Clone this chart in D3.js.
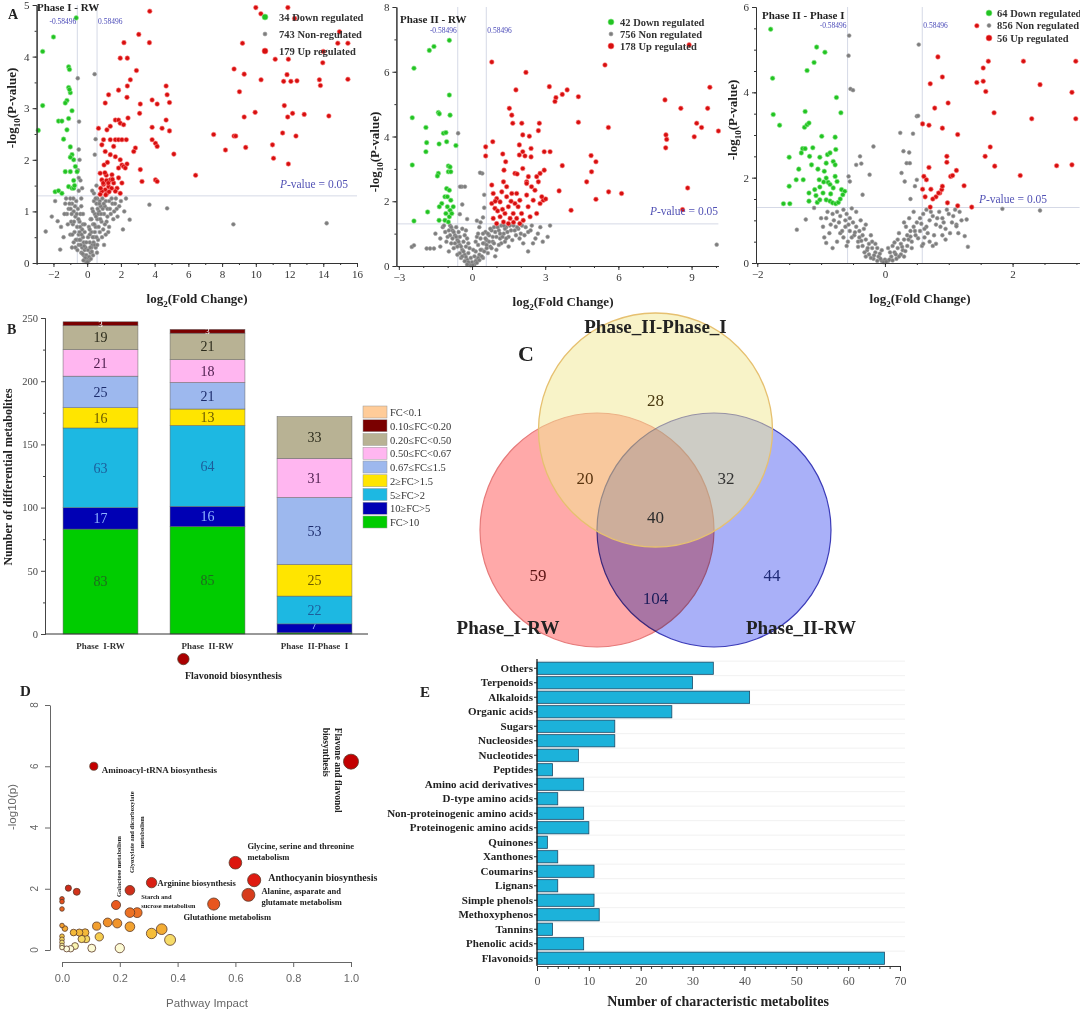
<!DOCTYPE html>
<html><head><meta charset="utf-8">
<script src="https://cdn.jsdelivr.net/npm/d3@7"></script>
<style>body{margin:0;background:#fff}svg{display:block}</style></head>
<body>
<svg id="c" width="1080" height="1018"></svg>
<script>
// ---------------- DATA ----------------
const FC_T = 0.58496, P_T = 1.30103;
// Panel A1: Phase I - RW
const p1Down = [[-2.0,4.38],[-2.64,4.1],[-2.64,3.05],[-2.9,2.57],[-1.1,3.8],[-1.05,3.75],[-1.1,3.4],[-1.0,3.3],[-1.05,3.36],[-1.2,3.15],[-1.3,3.1],[-1.7,2.75],[-1.5,2.75],[-1.1,2.8],[-0.9,2.95],[-1.2,2.58],[-1.4,2.4],[-1.0,2.25],[-0.9,2.1],[-0.8,2.0],[-1.3,1.77],[-1.0,1.77],[-0.6,1.77],[-0.7,1.87],[-0.8,1.6],[-1.1,1.48],[-0.9,1.45],[-0.8,1.45],[-0.75,1.5],[-1.9,1.38],[-1.5,1.35],[-1.7,1.4],[-0.65,4.75],[-1.0,2.05]];
const p1Up = [[3.71,4.88],[3.06,4.43],[3.69,4.27],[2.18,4.27],[1.96,3.97],[2.38,3.97],[2.92,3.73],[2.56,3.55],[2.38,3.43],[1.86,3.35],[2.36,3.21],[1.27,3.26],[1.07,3.10],[3.15,3.08],[3.85,3.16],[4.15,3.08],[4.68,3.43],[4.74,3.26],[4.88,3.11],[4.68,2.77],[4.44,2.61],[3.85,2.63],[3.85,2.39],[4.88,2.56],[3.11,2.90],[2.42,2.81],[1.67,2.77],[1.86,2.77],[1.96,2.71],[2.16,2.68],[0.67,2.61],[1.17,2.58],[1.37,2.65],[0.97,2.39],[1.37,2.39],[1.67,2.39],[1.86,2.39],[2.06,2.39],[2.32,2.39],[0.87,2.29],[1.07,2.16],[1.57,2.26],[2.86,2.23],[2.76,2.16],[1.37,2.1],[1.67,2.06],[1.96,2.0],[2.06,1.9],[2.36,1.92],[2.16,1.87],[1.86,1.84],[2.26,1.84],[4.05,2.32],[4.15,2.26],[5.14,2.11],[3.15,1.81],[3.25,1.58],[4.05,1.61],[4.15,1.58],[6.43,1.70],[0.77,1.74],[0.87,1.61],[0.97,1.52],[1.07,1.42],[1.17,1.35],[1.27,1.48],[1.37,1.61],[1.13,1.70],[1.47,1.71],[1.57,1.55],[1.77,1.45],[1.67,1.39],[1.96,1.35],[2.06,1.55],[1.86,1.65],[0.87,1.39],[0.77,1.33],[1.0,1.9],[1.2,1.95],[0.95,1.55],[1.15,1.6],[1.05,1.75],[1.25,1.55],[1.45,1.45],[0.8,1.45],[1.1,1.32],[1.3,1.38],[1.5,1.62],[10.0,4.95],[10.3,4.83],[11.9,4.95],[12.3,4.74],[14.96,4.48],[14.86,4.26],[15.46,4.26],[9.21,4.26],[14.0,4.1],[11.93,3.95],[11.15,3.95],[13.97,3.88],[8.71,3.76],[9.31,3.66],[11.85,3.65],[10.31,3.55],[11.65,3.52],[12.08,3.52],[12.44,3.53],[13.77,3.55],[13.83,3.44],[15.46,3.56],[9.03,3.32],[11.69,3.05],[12.18,2.90],[12.87,2.88],[11.89,2.83],[9.96,2.92],[9.31,2.83],[14.33,2.85],[7.5,2.49],[8.71,2.46],[8.81,2.46],[8.2,2.19],[9.4,2.24],[11.59,2.52],[12.38,2.46],[10.99,2.29],[11.05,2.03],[11.93,1.92]];
const p1Non = [[-0.1,0.05],[-0.2,0.15],[-0.3,0.3],[-0.15,0.25],[-0.4,0.45],[-0.35,0.2],[-0.5,0.55],[-0.6,0.7],[-0.45,0.8],[-0.7,0.9],[-0.8,1.0],[-0.55,1.05],[-0.9,1.15],[-0.65,1.2],[-1.0,1.25],[-0.75,0.6],[-0.85,0.75],[-0.25,0.5],[-0.5,0.35],[-1.1,1.05],[-1.2,0.95],[-0.95,0.8],[-0.3,0.65],[-0.6,0.45],[-0.2,0.4],[-0.4,0.95],[-1.3,1.15],[-1.0,0.55],[-0.7,0.3],[-0.1,0.3],[-0.05,0.15],[0.1,0.05],[0.2,0.2],[0.3,0.35],[0.15,0.4],[0.4,0.5],[0.5,0.7],[0.6,0.85],[0.35,0.75],[0.7,1.0],[0.8,1.1],[0.55,1.15],[0.9,1.25],[1.0,0.95],[1.1,1.2],[1.2,1.05],[0.75,0.6],[0.45,0.95],[0.25,0.6],[1.3,1.2],[1.4,0.95],[0.65,0.45],[0.85,0.8],[1.5,1.15],[1.6,1.0],[1.7,1.25],[0.5,0.3],[0.35,0.15],[0.95,0.65],[1.15,0.8],[1.8,0.9],[2.0,1.2],[0.6,1.25],[0.3,1.05],[0.2,0.85],[0.05,0.5],[0.1,0.7],[1.25,0.6],[1.9,1.1],[2.2,1.0],[0.4,1.2],[0.0,0.1],[0.05,0.25],[-0.05,0.4],[0.15,0.55],[-0.15,0.6],[0.25,0.3],[-0.25,0.75],[0.45,0.6],[0.55,0.5],[0.65,0.95],[0.75,1.2],[1.05,1.1],[-0.35,1.1],[-0.45,0.6],
 [-0.05,0.02],[0.02,0.02],[-0.12,0.1],[0.12,0.12],[-0.22,0.05],[0.22,0.08],[-0.18,0.33],[0.18,0.3],[-0.28,0.18],[0.28,0.22],[-0.38,0.35],[0.38,0.4],[-0.33,0.55],[0.33,0.5],[-0.42,0.7],[0.42,0.75],[-0.52,0.85],[0.52,0.9],[-0.62,0.95],[0.62,1.05],[-0.72,1.1],[0.72,1.15],[-0.82,1.25],[0.82,0.95],[-0.92,0.95],[0.92,1.05],[-1.05,1.15],[1.05,0.75],[-1.15,0.75],[1.2,0.9],[-0.58,0.25],[0.58,0.2],[-0.68,0.45],[0.68,0.7],[-0.78,0.8],[0.78,0.85],[-0.88,0.55],[0.88,0.5],[-0.98,1.05],[0.98,1.15],[1.35,1.05],[1.45,1.25],[1.55,0.85],[1.65,1.15],[1.75,1.05],[-1.25,1.25],[-1.35,0.95],[0.45,0.35],[-0.45,0.45],[0.15,0.65],[-0.15,0.75],[0.25,0.85],[-0.25,0.95],[0.35,1.0],[-0.35,1.25],[0.5,1.25],[1.1,0.55],[1.3,0.7],[-0.8,0.4],[0.6,0.35],
 [-0.5,1.4],[-0.4,1.6],[-0.55,1.8],[-0.45,2.0],[-0.5,2.2],[-0.48,2.74],[-0.56,3.58],[0.44,3.66],[0.5,2.4],[0.45,2.1],[0.55,1.5],[0.4,1.35],[-0.3,1.45],[0.3,1.4],[-0.5,1.65],[3.69,1.13],[4.74,1.06],[8.67,0.75],[14.2,0.77],[-2.46,0.61],[-1.75,0.81],[-1.6,0.26],[2.52,0.84],[2.12,0.65],[-1.9,1.2],[-2.1,0.9],[2.3,1.25],[-1.4,0.5],[-0.9,0.3],[1.0,0.35],[-1.55,0.7]];
// Panel A2: Phase II - RW
const p2Down = [[-0.93,6.97],[-1.75,6.66],[-1.56,6.78],[-2.38,6.11],[-0.93,5.28],[-2.45,4.58],[-0.9,4.66],[-1.38,4.74],[-1.34,4.70],[-1.89,4.28],[-1.86,3.81],[-1.89,3.53],[-1.35,3.77],[-1.17,4.1],[-1.07,4.12],[-0.66,3.72],[-1.04,3.84],[-2.45,3.12],[-1.38,2.86],[-1.42,2.78],[-0.97,3.09],[-0.9,3.06],[-0.97,2.91],[-0.87,2.91],[-1.82,1.67],[-2.38,1.39],[-1.35,1.41],[-1.04,2.39],[-0.93,2.34],[-1.11,2.14],[-1.01,2.14],[-0.87,2.03],[-1.24,1.93],[-1.34,1.83],[-1.01,1.83],[-0.9,1.72],[-1.07,1.62],[-0.93,1.52],[-1.11,1.41],[-0.97,1.36],[-0.83,1.62],[-0.77,1.83]];
const p2Up = [[0.81,6.30],[2.21,5.98],[5.45,6.21],[8.9,6.83],[3.17,5.54],[4.36,5.23],[1.8,5.44],[3.44,5.2],[3.4,5.08],[3.7,5.3],[3.9,5.44],[4.36,4.44],[1.53,4.87],[1.63,4.66],[1.67,4.41],[2.04,4.41],[2.76,4.41],[2.72,4.18],[2.08,4.05],[2.35,4.01],[0.85,3.84],[0.56,3.68],[0.56,3.40],[1.26,3.46],[1.94,3.74],[1.94,3.43],[2.08,3.53],[2.17,3.40],[2.42,3.63],[2.42,3.37],[2.96,3.53],[3.2,3.53],[3.7,3.1],[1.38,3.22],[1.31,2.96],[1.76,2.86],[1.85,2.84],[2.08,3.01],[2.31,2.76],[2.24,2.6],[2.65,2.76],[2.72,2.6],[2.79,2.86],[2.96,2.96],[2.92,2.03],[3.02,2.07],[2.79,1.93],[3.57,2.32],[4.7,2.6],[4.88,3.41],[4.9,2.91],[5.08,3.22],[5.08,2.06],[5.6,2.29],[6.13,2.24],[4.06,1.72],[5.59,4.28],[7.91,5.13],[7.95,4.05],[7.98,3.91],[7.94,3.65],[8.56,4.87],[9.21,4.41],[9.41,4.28],[9.11,3.99],[9.66,4.87],[9.75,5.52],[10.1,4.17],[8.84,2.41],[8.63,1.74],[0.81,2.5],[0.87,2.24],[1.01,2.08],[0.81,1.93],[0.94,1.78],[1.15,1.98],[1.22,2.29],[1.29,2.6],[1.42,2.45],[1.42,2.14],[1.49,1.83],[1.35,1.62],[1.15,1.52],[0.87,1.47],[1.01,1.31],[1.56,1.47],[1.69,1.62],[1.76,1.93],[1.83,2.24],[1.89,1.83],[1.96,2.03],[2.03,1.62],[2.1,1.41],[1.83,1.47],[2.24,2.19],[2.3,1.83],[2.38,1.52],[2.51,2.03],[2.58,2.34],[2.65,1.62],[2.44,2.45],[1.63,2.24],[2.24,2.55],[2.86,2.14],[1.49,1.31],[1.29,1.36],[1.96,1.31],[1.05,1.7],[1.25,1.75],[1.6,2.0],[0.95,2.0],[1.7,1.35]];
const p2Non = [[-0.1,0.05],[-0.2,0.2],[-0.3,0.35],[-0.15,0.4],[-0.4,0.5],[-0.5,0.65],[-0.35,0.75],[-0.6,0.8],[-0.7,0.95],[-0.55,1.05],[-0.8,1.1],[-0.9,1.25],[-0.65,1.2],[-1.0,0.9],[-1.1,1.05],[-0.45,0.25],[-0.25,0.6],[-0.75,0.55],[-0.85,0.7],[-1.2,1.2],[-0.3,0.95],[-0.05,0.25],[-0.6,0.35],[-0.95,0.45],[-1.3,0.85],[-0.4,1.15],[0.1,0.05],[0.2,0.2],[0.3,0.35],[0.15,0.45],[0.4,0.5],[0.5,0.7],[0.6,0.8],[0.35,0.85],[0.7,0.95],[0.8,1.1],[0.55,1.05],[0.9,1.2],[1.0,0.9],[1.1,1.1],[1.2,1.25],[0.75,0.6],[0.45,0.25],[0.25,0.65],[0.65,0.4],[0.85,0.75],[1.3,1.0],[1.4,1.2],[1.5,0.9],[1.6,1.1],[1.7,1.25],[1.8,0.95],[1.9,1.15],[2.0,1.0],[2.2,1.2],[2.4,1.1],[2.6,0.85],[2.8,1.2],[1.2,0.7],[1.5,0.6],[1.0,0.5],[0.05,0.5],[0.3,1.2],[2.1,0.7],[2.5,0.7],[0.95,0.3],[0.0,0.12],[-0.1,0.55],[0.1,0.3],[0.2,0.9],[-0.2,0.85],[0.45,1.0],[0.6,0.55],[-0.5,0.9],[1.15,0.85],[1.35,0.75],
 [-0.05,0.02],[0.03,0.03],[-0.15,0.12],[0.15,0.15],[-0.25,0.28],[0.25,0.25],[-0.35,0.45],[0.35,0.5],[-0.45,0.6],[0.45,0.7],[-0.55,0.75],[0.55,0.85],[-0.65,0.9],[0.65,1.0],[-0.75,1.05],[0.75,1.15],[-0.85,1.2],[0.85,0.9],[-0.95,1.1],[0.95,1.05],[-1.05,0.75],[1.05,1.2],[1.15,1.0],[1.25,0.9],[1.35,1.15],[1.45,1.05],[1.55,1.25],[1.65,0.8],[1.75,1.1],[1.85,1.2],[1.95,0.85],[2.05,1.25],[2.15,0.95],[2.3,1.05],[2.45,1.25],[2.7,1.0],[-0.2,0.05],[0.2,0.1],[-0.3,0.15],[0.3,0.18],[-0.4,0.3],[0.4,0.3],[-0.5,0.4],[0.5,0.45],[-0.6,0.6],[0.6,0.65],[-0.7,0.7],[0.7,0.75],[-0.8,0.85],[0.8,0.55],[-0.9,0.95],[0.9,0.7],[-1.15,1.25],[1.1,0.65],[1.3,1.25],[1.4,0.85],[0.25,1.0],[-0.25,1.1],[0.15,0.75],[-0.15,0.7],
 [-0.57,4.1],[0.42,2.86],[-0.42,2.45],[-0.49,2.45],[-0.29,2.45],[0.33,2.88],[-0.5,1.6],[-0.4,1.9],[0.45,1.5],[0.5,1.8],[0.2,1.4],[-0.2,1.45],[0.5,2.2],[0.35,1.35],[-2.47,0.59],[-2.38,0.64],[-1.86,0.54],[-1.72,0.54],[-1.56,0.54],[10.03,0.66],[3.2,1.25],[2.9,0.75],[-1.5,1.0],[-1.3,0.6],[3.1,0.9],[2.3,0.45]];
// Panel A3: Phase II - Phase I
const p3Down = [[-1.79,5.48],[-1.76,4.33],[-1.75,3.48],[-1.65,3.23],[-1.07,5.06],[-0.94,4.94],[-1.11,4.7],[-1.22,4.51],[-0.76,3.88],[-0.69,3.52],[-1.25,3.55],[-1.26,3.18],[-1.22,3.24],[-1.19,3.28],[-0.99,2.97],[-0.78,2.95],[-1.29,2.68],[-1.25,2.68],[-1.31,2.58],[-1.5,2.48],[-1.18,2.5],[-1.13,2.7],[-1.02,2.48],[-0.9,2.54],[-0.86,2.58],[-0.77,2.66],[-0.92,2.34],[-0.81,2.38],[-0.78,2.3],[-1.15,2.3],[-1.39,1.95],[-1.28,1.95],[-1.5,1.8],[-1.03,1.95],[-1.02,1.78],[-0.92,1.99],[-0.89,1.89],[-0.78,2.03],[-0.75,1.91],[-1.19,1.64],[-1.1,1.72],[-0.97,1.64],[-0.86,1.84],[-0.81,1.76],[-0.68,1.72],[-0.63,1.68],[-0.66,1.6],[-0.92,1.48],[-0.86,1.45],[-0.82,1.41],[-0.77,1.39],[-0.73,1.42],[-1.06,1.42],[-1.02,1.48],[-1.19,1.45],[-1.59,1.39],[-1.49,1.39],[-0.95,2.15],[-1.05,2.2],[-0.7,1.5],[-1.35,2.2],[-0.85,1.62],[-1.08,1.58],[-0.96,1.9]];
const p3Up = [[1.44,5.56],[0.83,4.83],[1.62,4.73],[2.17,4.73],[2.99,4.73],[1.54,4.57],[0.9,4.36],[1.44,4.23],[1.54,4.26],[0.71,4.2],[1.58,4.02],[2.43,4.18],[2.93,4.0],[0.99,3.75],[0.78,3.63],[1.71,3.52],[2.3,3.38],[2.99,3.38],[0.59,3.26],[0.69,3.23],[0.9,3.16],[1.14,3.01],[1.65,2.72],[0.97,2.5],[0.97,2.36],[1.57,2.5],[0.69,2.24],[1.72,2.27],[2.69,2.28],[2.93,2.3],[1.03,2.03],[1.06,2.05],[1.12,2.17],[0.61,2.03],[2.12,2.05],[0.59,1.73],[0.72,1.73],[0.86,1.64],[0.89,1.72],[0.9,1.8],[0.8,1.55],[0.84,1.64],[0.63,1.55],[0.71,1.31],[0.98,1.41],[1.14,1.34],[1.24,1.81],[1.36,1.31],[0.75,1.5],[0.65,1.95]];
const p3Non = [[-0.05,0.05],[-0.1,0.15],[-0.15,0.25],[-0.2,0.35],[-0.25,0.45],[-0.3,0.55],[-0.35,0.65],[-0.4,0.75],[-0.45,0.85],[-0.5,0.95],[-0.55,1.05],[-0.6,1.15],[-0.65,1.25],[-0.7,1.1],[-0.75,1.2],[-0.8,1.0],[-0.85,0.9],[-0.9,1.2],[-0.12,0.35],[-0.2,0.5],[-0.28,0.3],[-0.33,0.8],[-0.42,0.5],[-0.48,0.65],[-0.55,0.75],[-0.62,0.85],[-0.7,0.7],[-0.38,1.0],[-0.45,1.2],[-0.25,0.2],[-0.18,0.1],[-0.3,0.15],[-0.22,0.65],[-0.58,0.5],[-0.95,0.6],[-1.0,1.05],[-0.52,1.28],[-0.08,0.22],[-0.35,0.4],[-0.65,0.6],[0.05,0.05],[0.1,0.15],[0.15,0.25],[0.2,0.35],[0.25,0.45],[0.3,0.55],[0.35,0.65],[0.4,0.75],[0.45,0.85],[0.5,0.95],[0.55,1.05],[0.6,1.15],[0.65,1.25],[0.7,1.0],[0.75,1.1],[0.8,0.9],[0.85,1.2],[0.9,1.05],[0.95,0.8],[1.0,1.15],[1.05,0.95],[1.1,1.25],[1.15,0.7],[1.2,1.0],[0.12,0.4],[0.2,0.55],[0.28,0.3],[0.33,0.85],[0.42,0.5],[0.48,0.65],[0.55,0.75],[0.62,0.6],[0.7,0.5],[0.38,1.05],[0.45,1.2],[0.25,0.2],[0.18,0.1],[0.3,0.15],[0.22,0.7],[0.58,0.4],[0.8,0.45],[0.9,0.65],[0.0,0.08],[0.08,0.25],[0.35,0.4],[0.65,0.85],
 [-0.02,0.02],[0.02,0.03],[-0.07,0.1],[0.07,0.08],[-0.12,0.05],[0.12,0.06],[-0.17,0.18],[0.17,0.2],[-0.22,0.12],[0.22,0.15],[-0.27,0.35],[0.27,0.38],[-0.32,0.25],[0.32,0.28],[-0.37,0.52],[0.37,0.55],[-0.42,0.38],[0.42,0.35],[-0.47,0.72],[0.47,0.75],[-0.52,0.6],[0.52,0.58],[-0.57,0.9],[0.57,0.92],[-0.62,1.0],[0.62,0.8],[-0.67,0.75],[0.67,0.7],[-0.72,0.95],[0.72,1.2],[-0.77,0.85],[0.77,0.65],[-0.82,1.15],[0.82,1.05],[-0.87,0.7],[0.87,0.85],[-0.92,1.05],[0.92,0.95],[-0.97,0.85],[0.97,1.25],[1.02,0.7],[1.07,1.1],[1.12,0.9],[1.17,1.2],[-0.15,0.45],[0.15,0.48],[-0.05,0.3],[0.05,0.35],[-0.4,0.6],[0.4,0.62],[-0.6,0.4],[0.6,0.45],[-0.75,0.5],[0.75,0.4],[0.95,0.55],[-0.3,0.9],[0.3,0.95],
 [-0.56,5.33],[-0.57,4.86],[-0.54,4.08],[-0.5,4.05],[0.53,5.12],[0.5,3.44],[0.52,3.45],[0.44,3.03],[0.24,3.05],[-0.18,2.73],[0.29,2.62],[0.38,2.59],[0.34,2.34],[0.39,2.34],[0.26,2.11],[0.5,1.95],[-0.45,2.3],[-0.37,2.33],[-0.39,2.5],[-0.24,2.07],[-0.57,2.03],[-0.55,1.91],[0.31,1.91],[0.47,1.8],[-0.35,1.6],[0.4,1.5],[-1.38,0.78],[-1.24,1.02],[-0.92,0.47],[-0.82,0.35],[1.25,0.63],[1.3,0.38],[1.28,1.02],[2.43,1.23],[1.84,1.27],[1.12,0.86],[-1.11,1.29]];
const volcanoLegend = [
  ["34 Down regulated","743 Non-regulated","179 Up regulated"],
  ["42 Down regulated","756 Non regulated","178 Up regulated"],
  ["64 Down regulated","856 Non regulated","56 Up regulated"]];
const volcanoTitles = ["Phase I - RW","Phase II - RW","Phase II - Phase I"];

// Panel B
const bCats = ["Phase  I-RW","Phase  II-RW","Phase  II-Phase  I"];
const bKeys = ["FC>10","10≥FC>5","5≥FC>2","2≥FC>1.5","0.67≤FC≤1.5","0.50≤FC<0.67","0.20≤FC<0.50","0.10≤FC<0.20","FC<0.1"];
const bVals = {
  "FC>10":[83,85,1], "10≥FC>5":[17,16,7], "5≥FC>2":[63,64,22], "2≥FC>1.5":[16,13,25],
  "0.67≤FC≤1.5":[25,21,53], "0.50≤FC<0.67":[21,18,31], "0.20≤FC<0.50":[19,21,33],
  "0.10≤FC<0.20":[3,3,0], "FC<0.1":[0,0,0]};
const bTicks = [0,50,100,150,200,250];

// Panel C
const vennSets = ["Phase_II-Phase_I","Phase_I-RW","Phase_II-RW"];
const vennRegions = ["A","AB","AC","ABC","B","BC","C"];
const vennCounts = [28,20,32,40,59,104,44];

// Panel D
const dNames = ["Flavone and flavonol biosynthesis","Flavonoid biosynthesis","Aminoacyl-tRNA biosynthesis","Glycine, serine and threonine metabolism","Anthocyanin biosynthesis","Alanine, asparate and glutamate metabolism","Glutathione metabolism","Arginine biosynthesis","Glyoxylate and dicarboxylate metabolism","Starch and sucrose metabolism","Galactose metabolism"];
const dImpact = [1.0,0.42,0.11,0.60,0.665,0.645,0.525,0.31,0.235,0.26,0.187, 0.022,0.051,0.0,0.0,0.0,0.0,0.01,0.0,0.0,0.0,0.0,0.0,0.016,0.03,0.045,0.04,0.06,0.08,0.068,0.083,0.12,0.129,0.103,0.158,0.191,0.235,0.235,0.2,0.31,0.345,0.374];
const dLogP =   [6.15,9.5,6.0,2.85,2.28,1.8,1.5,2.2,1.95,1.22,1.47, 2.02,1.9,1.67,1.58,1.34,0.8,0.7,0.45,0.35,0.25,0.15,0.08,0.035,0.04,0.13,0.57,0.57,0.57,0.36,0.36,0.78,0.43,0.06,0.9,0.87,0.76,1.22,0.06,0.54,0.68,0.33];

// Panel E
const eCats = ["Others","Terpenoids","Alkaloids","Organic acids","Sugars","Nucleosides","Nucleotides","Peptides","Amino acid derivatives","D-type amino acids","Non-proteinogenic amino acids","Proteinogenic amino acids","Quinones","Xanthones","Coumarins","Lignans","Simple phenols","Methoxyphenos","Tannins","Phenolic acids","Flavonoids"];
const eVals = [34,30,41,26,15,15,8,3,9,4,9,10,2,4,11,4,11,12,3,9,67];

// ---------------- DRAW ----------------
const svg = d3.select('#c');
svg.append('rect').attr('width',1080).attr('height',1018).attr('fill','#fff');
const SERIF = "'Liberation Serif','Times New Roman',serif";
const SANS = "'Liberation Sans',Arial,sans-serif";

function styleAxis(g, col, fs, fam){
  g.select('.domain').attr('stroke',col).attr('stroke-width',1);
  g.selectAll('.tick line').attr('stroke',col);
  g.selectAll('.tick text').attr('fill',col).attr('font-size',fs).attr('font-family',fam||SERIF);
}
function txt(g,x,y,s,o){
  o=o||{};
  const t=g.append('text').attr('x',x).attr('y',y).text(s)
    .attr('font-family',o.fam||SERIF).attr('font-size',o.fs||11)
    .attr('font-weight',o.fw||'normal').attr('fill',o.fill||'#222')
    .attr('text-anchor',o.anchor||'start');
  if(o.rot!==undefined) t.attr('transform',`rotate(${o.rot},${x},${y})`);
  if(o.italic) t.attr('font-style','italic');
  return t;
}

// ---- Volcano plots ----
const vcfg = [
 {L:36.6,R:357,T:5,B:263,xd:[-3,16],yd:[0,5],xt:d3.range(-2,17,2),xm:d3.range(-3,17,1),yt:d3.range(0,6,1),ym:d3.range(0,5.01,0.5),
  data:[p1Non,p1Down,p1Up],leg:[265,17,17],legTx:279,title:[37,11],ttl:[12,108],xtl:[197,303],lab:24,pv:[348,188]},
 {L:396.4,R:718.4,T:7,B:266,xd:[-3.1,10.1],yd:[0,8],xt:d3.range(-3,10,3),xm:d3.range(-3,10.1,1),yt:d3.range(0,9,2),ym:d3.range(0,8.01,1),
  data:[p2Non,p2Down,p2Up],leg:[611,22,12],legTx:620,title:[400,23],ttl:[375,152],xtl:[563,306],lab:33,pv:[718,215]},
 {L:756,R:1079.6,T:7,B:263,xd:[-2.02,3.05],yd:[0,6],xt:[-2,0,2],xm:d3.range(-2,3.01,0.5),yt:d3.range(0,7,2),ym:d3.range(0,6.01,0.5),
  data:[p3Non,p3Down,p3Up],leg:[989,13,12.5],legTx:997,title:[762,19],ttl:[733,120],xtl:[920,303],lab:28,pv:[1047,203]}
];
const vcols = [['#7d7d7d','#a0a0a0',1.9],['#22c322','#8fe88f',2.3],['#d60f0f','#ff8080',2.3]];
vcfg.forEach((o,i)=>{
  const g = svg.append('g');
  const x = d3.scaleLinear().domain(o.xd).range([o.L,o.R]);
  const y = d3.scaleLinear().domain(o.yd).range([o.B,o.T]);
  const lc='#d5d9e6';
  [-FC_T,FC_T].forEach(v=>g.append('line').attr('x1',x(v)).attr('x2',x(v)).attr('y1',o.T).attr('y2',o.B).attr('stroke',lc).attr('stroke-width',1));
  g.append('line').attr('x1',o.L).attr('x2',o.R).attr('y1',y(P_T)).attr('y2',y(P_T)).attr('stroke',lc).attr('stroke-width',1);
  o.data.forEach((arr,k)=>{
    g.append('g').selectAll('circle').data(arr).join('circle')
      .attr('cx',d=>x(d[0])).attr('cy',d=>y(d[1])).attr('r',vcols[k][2])
      .attr('fill',vcols[k][0]).attr('stroke',vcols[k][1]).attr('stroke-width',0.6);
  });
  txt(g,x(-FC_T)-1,o.lab,'-0.58496',{fs:7.5,fill:'#4a4ab8',anchor:'end'});
  txt(g,x(FC_T)+1,o.lab,'0.58496',{fs:7.5,fill:'#4a4ab8'});
  const pv = txt(g,o.pv[0],o.pv[1],'',{fs:11.5,fill:'#5252b5',anchor:'end'});
  pv.append('tspan').attr('font-style','italic').text('P');
  pv.append('tspan').text('-value = 0.05');
  const ax = g.append('g').attr('transform',`translate(0,${o.B})`)
    .call(d3.axisBottom(x).tickValues(o.xt).tickSize(4).tickSizeOuter(0).tickFormat(d3.format('d')));
  styleAxis(ax,'#333',11);
  const axm = g.append('g').attr('transform',`translate(0,${o.B})`)
    .call(d3.axisBottom(x).tickValues(o.xm).tickSize(2).tickSizeOuter(0).tickFormat(''));
  styleAxis(axm,'#333',11);
  const ay = g.append('g').attr('transform',`translate(${o.L},0)`)
    .call(d3.axisLeft(y).tickValues(o.yt).tickSize(4).tickSizeOuter(0).tickFormat(d3.format('d')));
  styleAxis(ay,'#333',11);
  const aym = g.append('g').attr('transform',`translate(${o.L},0)`)
    .call(d3.axisLeft(y).tickValues(o.ym).tickSize(2).tickSizeOuter(0).tickFormat(''));
  styleAxis(aym,'#333',11);
  txt(g,o.title[0],o.title[1],volcanoTitles[i],{fs:11,fw:'bold',fill:'#222'});
  volcanoLegend[i].forEach((s,k)=>{
    const yy=o.leg[1]+k*o.leg[2];
    const kk=[1,0,2][k];
    g.append('circle').attr('cx',o.leg[0]).attr('cy',yy).attr('r',kk==0?2:3)
      .attr('fill',vcols[kk][0]).attr('stroke',vcols[kk][1]).attr('stroke-width',0.6);
    txt(g,o.legTx,yy+3.5,s,{fs:10.5,fw:'bold',fill:'#333'});
  });
  const xt = txt(g,o.xtl[0],o.xtl[1],'',{fs:13,fw:'bold',anchor:'middle'});
  xt.append('tspan').text('log');
  xt.append('tspan').attr('font-size',9).attr('dy',4).text('2');
  xt.append('tspan').attr('dy',-4).text('(Fold Change)');
  const yt = txt(g,o.ttl[0],o.ttl[1],'',{fs:13,fw:'bold',anchor:'middle',rot:-90});
  yt.attr('dy',4);
  yt.append('tspan').text('-log');
  yt.append('tspan').attr('font-size',9).attr('dy',4).text('10');
  yt.append('tspan').attr('dy',-4).text('(P-value)');
});
txt(svg,8,19,'A',{fs:14,fw:'bold'});

// ---- Panel B ----
(function(){
  const g = svg.append('g');
  const x = d3.scaleBand().domain(bCats).range([47,368]).paddingInner(0.3).paddingOuter(0.15);
  const y = d3.scaleLinear().domain([0,250]).range([634,318]);
  const colors = {"FC>10":"#00cc00","10≥FC>5":"#0000b4","5≥FC>2":"#1db8e2","2≥FC>1.5":"#ffe500",
    "0.67≤FC≤1.5":"#9db8ee","0.50≤FC<0.67":"#ffb6f0","0.20≤FC<0.50":"#b8b294","0.10≤FC<0.20":"#7a0000","FC<0.1":"#ffcc99"};
  const lcol = {"FC>10":"#1f6b1f","10≥FC>5":"#8fb4ff","5≥FC>2":"#1d5d9a","2≥FC>1.5":"#6b5a00",
    "0.67≤FC≤1.5":"#1b2b6b","0.50≤FC<0.67":"#4a1a4a","0.20≤FC<0.50":"#2b2b1b","0.10≤FC<0.20":"#ffffff","FC<0.1":"#333"};
  const rows = bCats.map((c,i)=>{const r={cat:c}; bKeys.forEach(k=>r[k]=bVals[k][i]); return r;});
  const stack = d3.stack().keys(bKeys)(rows);
  stack.forEach(s=>{
    s.forEach(d=>{
      const v=d[1]-d[0]; if(v<=0) return;
      g.append('rect').attr('x',x(d.data.cat)).attr('width',x.bandwidth())
        .attr('y',y(d[1])).attr('height',y(d[0])-y(d[1]))
        .attr('fill',colors[s.key]).attr('stroke','#666').attr('stroke-width',0.5);
      if(v<2) return;
      const fs = v<6?9:14;
      const cy = v<10 && v>=6 ? y(d[0])-4 : (y(d[0])+y(d[1]))/2+fs*0.35;
      txt(g,x(d.data.cat)+x.bandwidth()/2,cy,String(v),{fs:fs,fill:lcol[s.key],anchor:'middle'});
    });
  });
  const ax = g.append('g').attr('transform','translate(0,634)').call(d3.axisBottom(x).tickSize(0).tickSizeOuter(0));
  styleAxis(ax,'#333',9);
  ax.select('.domain').attr('d','M45,0H368');
  ax.selectAll('.tick text').attr('font-weight','bold').attr('dy','1.35em').style('white-space','pre');
  const ay = g.append('g').attr('transform','translate(45,0)').call(d3.axisLeft(y).tickValues(bTicks).tickSize(4).tickSizeOuter(0));
  styleAxis(ay,'#444',10.5);
  const aym = g.append('g').attr('transform','translate(45,0)').call(d3.axisLeft(y).tickValues(d3.range(25,250,50)).tickSize(2).tickFormat(''));
  styleAxis(aym,'#444',10);
  txt(g,12,477,'Number of differential metabolites',{fs:12,fw:'bold',anchor:'middle',rot:-90});
  txt(g,7,334,'B',{fs:14,fw:'bold'});
  bKeys.slice().reverse().forEach((k,i)=>{
    const yy = 412 + i*13.75;
    g.append('rect').attr('x',363).attr('y',yy-6).attr('width',24).attr('height',12).attr('fill',colors[k]).attr('stroke','#999').attr('stroke-width',0.5);
    txt(g,390,yy+4,k,{fs:10.5,fill:'#333'});
  });
})();

// ---- Panel C Venn ----
(function(){
  const g = svg.append('g');
  const cx=655.5, top=430, dx=58.5, dy=100, r=117;
  const cA=[cx,top], cB=[cx-dx,top+dy], cC=[cx+dx,top+dy];
  g.append('circle').attr('cx',cB[0]).attr('cy',cB[1]).attr('r',r).attr('fill','#ffa9a9').attr('stroke','#e67a7a').attr('stroke-width',1.2);
  g.append('circle').attr('cx',cC[0]).attr('cy',cC[1]).attr('r',r).attr('fill','#a9b0f8').attr('stroke','#3c3cb8').attr('stroke-width',1.2).style('mix-blend-mode','multiply');
  g.append('circle').attr('cx',cA[0]).attr('cy',cA[1]).attr('r',r).attr('fill','#f2e892').attr('fill-opacity',0.5).attr('stroke','#e6c070').attr('stroke-width',1.3);
  const pos = {A:[cA[0],cA[1]-30],AB:[cB[0]-12,cA[1]+48],AC:[cC[0]+12,cA[1]+48],ABC:[cx,top+87],B:[cB[0]-59,cB[1]+45],C:[cC[0]+58,cB[1]+45],BC:[cx,cB[1]+68]};
  const ncol = {A:'#4a3a10',AB:'#5a3510',AC:'#333',ABC:'#2b2b2b',B:'#5a1212',C:'#1f2a78',BC:'#1c1c5a'};
  vennRegions.forEach((k,i)=>txt(g,pos[k][0],pos[k][1]+6,String(vennCounts[i]),{fs:17,anchor:'middle',fill:ncol[k]}));
  txt(g,cA[0],333,vennSets[0],{fs:19,fw:'bold',anchor:'middle',fill:'#222'});
  txt(g,508,634,vennSets[1],{fs:19,fw:'bold',anchor:'middle',fill:'#222'});
  txt(g,801,634,vennSets[2],{fs:19,fw:'bold',anchor:'middle',fill:'#222'});
  txt(g,518,361,'C',{fs:22,fw:'bold',fill:'#222'});
})();

// ---- Panel D ----
(function(){
  const g = svg.append('g');
  const x = d3.scaleLinear().domain([0,1]).range([62,351]);
  const y = d3.scaleLinear().domain([0,8]).range([950,705]);
  const rs = d3.scaleSqrt().domain([0,1]).range([2.3,7.5]);
  const col = d3.scaleLinear().domain([0,0.2,0.5,0.9,1.5,2.0,2.3,6]).range(['#fffff2','#f6ee8a','#f5c23c','#f0902a','#e8561e','#cc2a1a','#e01a10','#c40000']);
  const pts = dImpact.map((v,i)=>({x:v,y:dLogP[i],name:dNames[i]||''}));
  pts.sort((a,b)=>rs(b.x)-rs(a.x));
  g.selectAll('circle').data(pts).join('circle')
    .attr('cx',d=>x(d.x)).attr('cy',d=>y(d.y)).attr('r',d=>rs(d.x))
    .attr('fill',d=>col(d.y)).attr('stroke','#5a3a2a').attr('stroke-width',0.8);
  const ax = g.append('g').attr('transform','translate(0,962)').call(d3.axisBottom(x).tickValues(d3.range(0,1.01,0.2)).tickSize(5).tickSizeOuter(0).tickFormat(d3.format('.1f')));
  styleAxis(ax,'#666',11,SANS);
  ax.selectAll('.tick text').attr('dy','1.1em');
  const ay = g.append('g').attr('transform','translate(50,0)').call(d3.axisLeft(y).tickValues([0,2,4,6,8]).tickSize(5).tickSizeOuter(0).tickFormat(''));
  styleAxis(ay,'#666',11,SANS);
  [0,2,4,6,8].forEach(t=>txt(g,38,y(t),String(t),{fs:10,fam:SANS,fill:'#666',anchor:'middle',rot:-90}));
  txt(g,207,1007,'Pathway Impact',{fs:11.5,fam:SANS,fill:'#666',anchor:'middle'});
  txt(g,16,807,'-log10(p)',{fs:11.5,fam:SANS,fill:'#666',anchor:'middle',rot:-90});
  txt(g,20,696,'D',{fs:15,fw:'bold'});
  const B='bold';
  const at = n => pts.find(p=>p.name===n);
  let p;
  p=at(dNames[1]); txt(g,x(p.x)+50,y(p.y)+20,dNames[1],{fs:10,fw:B,anchor:'middle'});
  p=at(dNames[2]); txt(g,x(p.x)+8,y(p.y)+7,dNames[2],{fs:9,fw:B});
  p=at(dNames[0]);
  txt(g,x(p.x)-16,y(p.y)-34,'Flavone and flavonol',{fs:9.5,fw:B,rot:90});
  txt(g,x(p.x)-28,y(p.y)-34,'biosynthesis',{fs:9.5,fw:B,rot:90});
  p=at(dNames[3]); txt(g,x(p.x)+12,y(p.y)-14,'Glycine, serine and threonine',{fs:8.5,fw:B}); txt(g,x(p.x)+12,y(p.y)-3,'metabolism',{fs:8.5,fw:B});
  p=at(dNames[4]); txt(g,x(p.x)+14,y(p.y)+1,dNames[4],{fs:10,fw:B});
  p=at(dNames[5]); txt(g,x(p.x)+13,y(p.y)-0.5,'Alanine, asparate and',{fs:8.5,fw:B}); txt(g,x(p.x)+13,y(p.y)+10,'glutamate metabolism',{fs:8.5,fw:B});
  p=at(dNames[6]); txt(g,x(p.x)+13.5,y(p.y)+16,dNames[6],{fs:8.5,fw:B,anchor:'middle'});
  p=at(dNames[7]); txt(g,x(p.x)+6,y(p.y)+3,dNames[7],{fs:8.5,fw:B});
  p=at(dNames[9]); txt(g,x(p.x)+4,y(p.y)-14,'Starch and',{fs:6.5,fw:B}); txt(g,x(p.x)+4,y(p.y)-5,'sucrose metabolism',{fs:6.5,fw:B});
  p=at(dNames[8]); txt(g,x(p.x)+4,y(p.y)-58,'Glyoxylate and dicarboxylate',{fs:6.5,fw:B,anchor:'middle',rot:-90}); txt(g,x(p.x)+14,y(p.y)-58,'metabolism',{fs:6.5,fw:B,anchor:'middle',rot:-90});
  p=at(dNames[10]); txt(g,x(p.x)+5,y(p.y)-8,'Galactose metabolism',{fs:6.5,fw:B,rot:-90});
})();

// ---- Panel E ----
(function(){
  const g = svg.append('g');
  const x = d3.scaleLinear().domain([0,70]).range([537,900]);
  const y = d3.scaleBand().domain(eCats).range([661,965.5]).paddingInner(0.16).paddingOuter(0.08);
  eCats.forEach(c=>g.append('line').attr('x1',537).attr('x2',905).attr('y1',y(c)-1).attr('y2',y(c)-1).attr('stroke','#f1f1f1'));
  g.selectAll('rect').data(eCats).join('rect')
    .attr('x',x(0)).attr('y',d=>y(d)).attr('width',(d,i)=>x(eVals[i])-x(0)).attr('height',y.bandwidth())
    .attr('fill','#1cb2da').attr('stroke','#1c4a66').attr('stroke-width',0.8);
  const ax = g.append('g').attr('transform','translate(0,966)').call(d3.axisBottom(x).tickValues(d3.range(0,71,10)).tickSize(5).tickSizeOuter(0));
  styleAxis(ax,'#333',12);
  ax.selectAll('.tick text').attr('fill','#555').attr('dy','0.95em');
  const axm = g.append('g').attr('transform','translate(0,966)').call(d3.axisBottom(x).tickValues(d3.range(0,70,2)).tickSize(3).tickFormat(''));
  styleAxis(axm,'#333',12);
  const ay = g.append('g').attr('transform','translate(537,0)').call(d3.axisLeft(y).tickSize(3).tickSizeOuter(0).tickPadding(1));
  styleAxis(ay,'#222',11);
  ay.select('.domain').attr('d','M0,659V966').attr('stroke-width',1.3);
  ay.selectAll('.tick text').attr('font-weight','bold').attr('fill','#222');
  txt(g,718,1006,'Number of characteristic metabolites',{fs:14,fw:'bold',anchor:'middle'});
  txt(g,420,697,'E',{fs:15,fw:'bold'});
})();
</script>
</body></html>
